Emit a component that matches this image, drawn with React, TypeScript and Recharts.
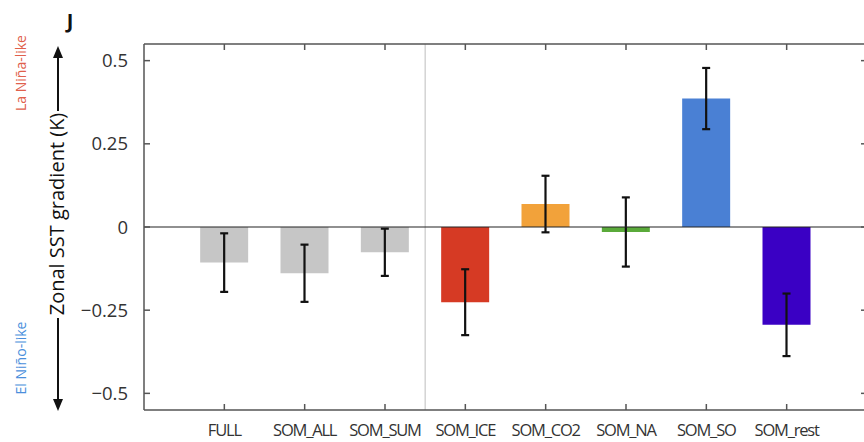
import React from "react";
import { BarChart, Bar, XAxis, YAxis, ErrorBar, ReferenceLine, Cell } from "recharts";

const categories = ["FULL", "SOM_ALL", "SOM_SUM", "SOM_ICE", "SOM_CO2", "SOM_NA", "SOM_SO", "SOM_rest"];
const values = [-0.107, -0.139, -0.076, -0.226, 0.069, -0.015, 0.386, -0.294];
const errors = [0.088, 0.086, 0.071, 0.099, 0.085, 0.104, 0.092, 0.094];
const colors = ["#c6c6c6", "#c6c6c6", "#c6c6c6", "#d63a24", "#f2a23a", "#5aaa3a", "#4a80d4", "#3a00c4"];
const yTicks = [-0.5, -0.25, 0, 0.25, 0.5];
const xTicks = [1, 2, 3, 4, 5, 6, 7, 8];

const data = categories.map((c, i) => ({ pos: i + 1, name: c, value: values[i], err: errors[i] }));

const fmtY = (v: number) => (v === 0 ? "0" : v < 0 ? "\u2212" + String(Math.abs(v)) : String(v));
const FONT = "'Open Sans', 'DejaVu Sans', sans-serif";
const AX = "#555";

export default function App() {
  return (
    <div style={{ position: "absolute", left: 0, top: 0, width: 864, height: 442, overflow: "hidden", background: "#fff" }}>
      <BarChart width={880} height={442} data={data} margin={{ top: 43, right: 12, bottom: 2, left: 84 }}>
        <XAxis
          dataKey="pos"
          type="number"
          domain={[0, 9]}
          ticks={xTicks}
          allowDataOverflow
          tickFormatter={(v: number) => categories[v - 1]}
          tickSize={-6}
          tickMargin={20}
          height={30}
          stroke={AX}
          strokeWidth={1.5}
          tick={{ fill: "#333", fontSize: 16.5, fontFamily: FONT, letterSpacing: -1.2 }}
        />
        <XAxis
          xAxisId="top"
          orientation="top"
          dataKey="pos"
          type="number"
          domain={[0, 9]}
          ticks={xTicks}
          allowDataOverflow
          tickFormatter={() => ""}
          tickSize={-6}
          height={1}
          stroke={AX}
          strokeWidth={1.5}
        />
        <YAxis
          domain={[-0.55, 0.55]}
          ticks={yTicks}
          tickFormatter={fmtY}
          tickSize={-6}
          tickMargin={22}
          width={60}
          stroke={AX}
          strokeWidth={1.5}
          tick={{ fill: "#333", fontSize: 18.5, fontFamily: FONT }}
        />
        <YAxis
          yAxisId="right"
          orientation="right"
          domain={[-0.55, 0.55]}
          ticks={yTicks}
          allowDataOverflow
          tickFormatter={() => ""}
          tickSize={-6}
          width={1}
          stroke={AX}
          strokeWidth={1.5}
        />
        <ReferenceLine x={3.5} stroke="#c8c8c8" strokeWidth={1.2} />
        <Bar dataKey="value" barSize={48} isAnimationActive={false}>
          {data.map((d, i) => (
            <Cell key={d.name} fill={colors[i]} />
          ))}
          <ErrorBar dataKey="err" width={4} stroke="#111" strokeWidth={2.2} direction="y" />
        </Bar>
        <ReferenceLine y={0} stroke="#222" strokeWidth={1.2} />
      </BarChart>
      <svg width={120} height={442} style={{ position: "absolute", left: 0, top: 0 }}>
        <text x={70} y={28} fontFamily={FONT} fontWeight="bold" fontSize={20} textAnchor="middle" fill="#111">J</text>
        <text transform="translate(26,73) rotate(-90)" fontFamily={FONT} fontSize={14} textAnchor="middle" fill="#e0604c">La Niña-like</text>
        <text transform="translate(26,358) rotate(-90)" fontFamily={FONT} fontSize={14} textAnchor="middle" fill="#4a8fdc">El Niño-like</text>
        <text transform="translate(64,214) rotate(-90)" fontFamily={FONT} fontSize={20} textAnchor="middle" fill="#111">Zonal SST gradient (K)</text>
        <line x1={58} y1={56} x2={58} y2={111} stroke="#111" strokeWidth={2} />
        <polygon points="58,46 53,58 63,58" fill="#111" />
        <line x1={58} y1={318} x2={58} y2={400} stroke="#111" strokeWidth={2} />
        <polygon points="58,411 53,399 63,399" fill="#111" />
      </svg>
    </div>
  );
}
